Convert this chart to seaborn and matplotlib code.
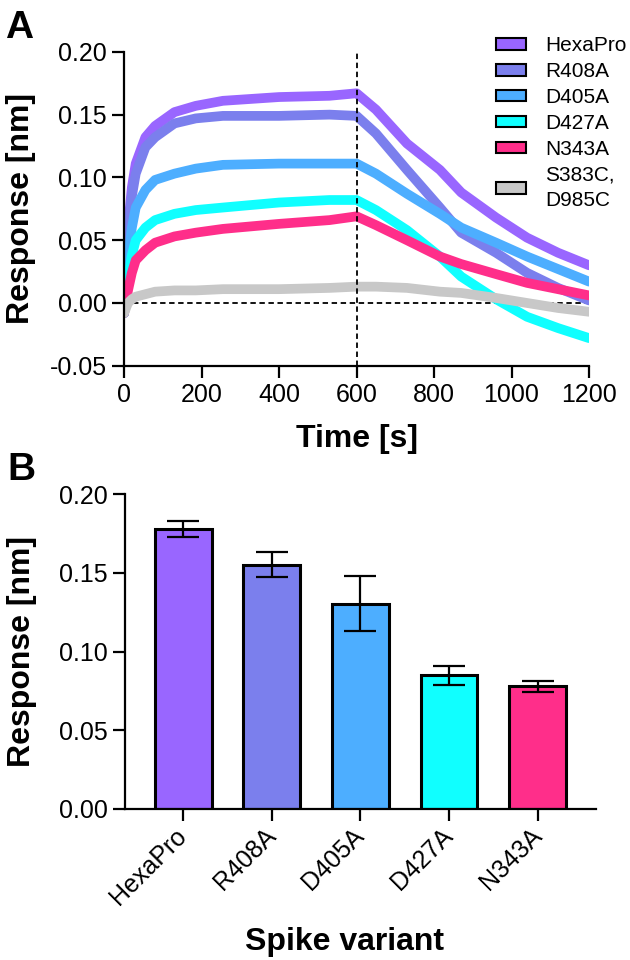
import pandas as pd
import matplotlib
matplotlib.use("Agg")
import matplotlib.pyplot as plt
import matplotlib.patches as mpatches
import seaborn as sns

sns.set_style("ticks")
plt.rcParams['font.family'] = ['Liberation Sans', 'DejaVu Sans']
plt.rcParams['axes.unicode_minus'] = False
plt.rcParams['text.color'] = 'black'
plt.rcParams['axes.labelcolor'] = 'black'
plt.rcParams['xtick.color'] = 'black'
plt.rcParams['ytick.color'] = 'black'
plt.rcParams['axes.edgecolor'] = 'black'

# --- data ---
variants = ["HexaPro", "R408A", "D405A", "D427A", "N343A", "S383C,\nD985C"]
colors = ["#9966FF", "#7B7FED", "#4DAEFF", "#10FFFF", "#FF2E8A", "#C8C8C8"]

# panel A: sensorgram, time [s] and response [nm] per variant
time_s = [0, 10, 20, 30, 55, 80, 130, 185, 255, 400, 530, 600, 650, 730, 815, 870, 960, 1040, 1120, 1200]
resp_hexapro = [-0.008, 0.060, 0.092, 0.111, 0.132, 0.141, 0.152, 0.157, 0.161, 0.164, 0.165, 0.167,
                0.154, 0.127, 0.106, 0.088, 0.068, 0.052, 0.040, 0.030]
resp_r408a = [-0.008, 0.055, 0.085, 0.103, 0.124, 0.132, 0.143, 0.147, 0.149, 0.149, 0.150, 0.149,
              0.135, 0.106, 0.076, 0.056, 0.040, 0.024, 0.012, 0.002]
resp_d405a = [-0.008, 0.035, 0.060, 0.076, 0.090, 0.098, 0.103, 0.107, 0.110, 0.111, 0.111, 0.111,
              0.103, 0.087, 0.071, 0.060, 0.048, 0.037, 0.027, 0.017]
resp_d427a = [-0.008, 0.020, 0.038, 0.050, 0.060, 0.066, 0.071, 0.074, 0.076, 0.080, 0.082, 0.082,
              0.074, 0.058, 0.037, 0.021, 0.003, -0.011, -0.020, -0.028]
resp_n343a = [-0.008, 0.010, 0.024, 0.034, 0.042, 0.048, 0.053, 0.056, 0.059, 0.063, 0.066, 0.069,
              0.062, 0.050, 0.037, 0.031, 0.023, 0.016, 0.011, 0.006]
resp_s383c = [-0.008, 0.000, 0.003, 0.005, 0.007, 0.009, 0.010, 0.010, 0.011, 0.011, 0.012, 0.013,
              0.013, 0.012, 0.009, 0.008, 0.004, 0.000, -0.004, -0.007]

# panel B: mean response with error bars
bar_variants = ["HexaPro", "R408A", "D405A", "D427A", "N343A"]
bar_mean = [0.178, 0.155, 0.130, 0.085, 0.078]
bar_err_low = [0.005, 0.008, 0.017, 0.006, 0.004]
bar_err_high = [0.005, 0.008, 0.018, 0.006, 0.003]

# long-form table for seaborn
traces = [resp_hexapro, resp_r408a, resp_d405a, resp_d427a, resp_n343a, resp_s383c]
rows = []
for name, vals in zip(variants, traces):
    for t, v in zip(time_s, vals):
        rows.append({"time": t, "response": v, "variant": name})
kin = pd.DataFrame(rows)
palette = dict(zip(variants, colors))

fig = plt.figure(figsize=(6.3, 9.6), dpi=100)

# --- Panel A ---
axA = fig.add_axes([0.197, 0.619, 0.738, 0.327])
sns.lineplot(data=kin, x="time", y="response", hue="variant", hue_order=variants,
             palette=palette, linewidth=7, estimator=None, sort=False, legend=False, ax=axA)
axA.axhline(0, color="black", lw=1.3, ls=(0, (3, 2)), zorder=0)
axA.axvline(600, color="black", lw=1.3, ls=(0, (3, 2)), zorder=5)
axA.set_xlim(0, 1200)
axA.set_ylim(-0.05, 0.20)
axA.set_xticks([0, 200, 400, 600, 800, 1000, 1200])
axA.set_yticks([-0.05, 0.00, 0.05, 0.10, 0.15, 0.20])
axA.set_yticklabels(["%.2f" % v for v in [-0.05, 0.00, 0.05, 0.10, 0.15, 0.20]])
axA.set_xlabel("Time [s]", fontsize=23, fontweight="bold", labelpad=12)
axA.set_ylabel("Response [nm]", fontsize=23, fontweight="bold")
axA.yaxis.set_label_coords(-0.19, 0.5)

handles = [mpatches.Patch(facecolor=c, edgecolor="black", linewidth=1.5) for c in colors]
leg = fig.legend(handles, variants, loc="upper left", bbox_to_anchor=(0.787, 0.962),
                 frameon=False, fontsize=15, handlelength=1.45, handleheight=0.46,
                 handletextpad=0.9, labelspacing=0.33, borderpad=0, borderaxespad=0)
for t in leg.get_texts():
    t.set_linespacing(1.4)

# --- Panel B ---
axB = fig.add_axes([0.1984, 0.1573, 0.7476, 0.3281])
bar_df = pd.DataFrame({"variant": bar_variants, "mean": bar_mean})
sns.barplot(data=bar_df, x="variant", y="mean", hue="variant", palette=palette,
            saturation=1, width=0.64, edgecolor="black", linewidth=2.2, legend=False, ax=axB)
axB.errorbar(range(len(bar_variants)), bar_mean, yerr=[bar_err_low, bar_err_high],
             fmt="none", ecolor="black", elinewidth=1.6, capsize=11.5, capthick=1.6, zorder=5)
axB.set_xlim(-0.657, 4.657)
axB.set_ylim(0, 0.20)
axB.set_yticks([0.00, 0.05, 0.10, 0.15, 0.20])
axB.set_yticklabels(["%.2f" % v for v in [0.00, 0.05, 0.10, 0.15, 0.20]])
axB.set_xticks(range(len(bar_variants)))
axB.set_xticklabels(bar_variants, rotation=45, ha="right", va="center", rotation_mode="anchor")
axB.set_xlabel("Spike variant", fontsize=23, fontweight="bold")
axB.xaxis.set_label_coords(0.467, -0.375)
axB.set_ylabel("Response [nm]", fontsize=23, fontweight="bold")
axB.yaxis.set_label_coords(-0.187, 0.5)

for ax in (axA, axB):
    sns.despine(ax=ax)
    for s in ("left", "bottom"):
        ax.spines[s].set_linewidth(1.6)
    ax.tick_params(width=1.6, length=8.5, labelsize=18, pad=4)
axB.tick_params(axis="x", pad=8)

fig.text(0.008, 0.9604, "A", fontsize=28, fontweight="bold", va="baseline")
fig.text(0.011, 0.500, "B", fontsize=28, fontweight="bold", va="baseline")

fig.savefig("out.png", dpi=100)
